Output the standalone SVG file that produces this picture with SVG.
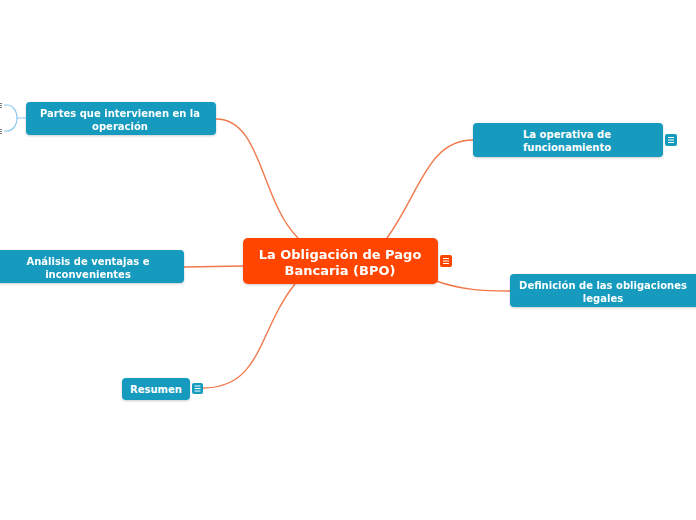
<svg xmlns="http://www.w3.org/2000/svg" width="696" height="520" viewBox="0 0 696 520">
<style>
.conn{fill:none;stroke:#F0784A;stroke-width:1.4}
.sub{fill:#139ABD}
.main{fill:#FF4500}
.t{font-family:"DejaVu Sans",Verdana,sans-serif;font-weight:bold;fill:#fff;text-anchor:middle}
.ts{font-size:10px}
.tm{font-size:13px}
.ic{stroke:#fff;stroke-width:1}
</style>
<defs>
<filter id="sh" x="-10%" y="-20%" width="120%" height="150%">
<feDropShadow dx="0" dy="1" stdDeviation="1" flood-color="#000" flood-opacity="0.2"/>
</filter>
</defs>
<rect width="696" height="520" fill="#fff"/>
<g id="connectors">
<path class="conn" d="M216,119 C262,119 260,200 298,238"/>
<path class="conn" d="M387,238 C420,192 428,140 473,140"/>
<path class="conn" d="M436,281 C462,290 482,291 510,291"/>
<path class="conn" d="M184,267 L243,266"/>
<path class="conn" d="M295,284 C258,330 262,388 203,388"/>
<path fill="none" stroke="#8EC8EE" stroke-width="1.2" d="M4,105 L7,105 C12,105 17,110 17,118 C17,126 12,131 7,131 L4,131 M17,118 L27,118"/>
</g>
<g id="cut-icons" stroke="#555" stroke-width="0.8">
<path d="M0,103.5 H2 M0,105.5 H2 M0,107.5 H2 M0,129.5 H2 M0,131.5 H2 M0,133.5 H2"/>
</g>
<g id="central" filter="url(#sh)">
<rect class="main" x="243" y="238" width="195" height="46" rx="5"/>
<text class="t tm" x="340" y="259">La Obligación de Pago</text>
<text class="t tm" x="340" y="275">Bancaria (BPO)</text>
</g>
<g id="central-icon">
<rect class="main" x="440" y="255" width="12" height="12" rx="2"/>
<path class="ic" d="M443,258.5 H449 M443,261 H449 M443,263.5 H449"/>
</g>
<g id="partes" filter="url(#sh)">
<rect class="sub" x="26" y="102" width="190" height="33" rx="4"/>
<text class="t ts" x="120" y="117">Partes que intervienen en la</text>
<text class="t ts" x="120" y="130">operación</text>
</g>
<g id="operativa">
<rect class="sub" x="473" y="123" width="190" height="34" rx="4" filter="url(#sh)"/>
<text class="t ts" x="567" y="138">La operativa de</text>
<text class="t ts" x="567" y="151">funcionamiento</text>
<rect class="sub" x="665" y="134" width="12" height="12" rx="2"/>
<path class="ic" d="M668,137.5 H674 M668,140 H674 M668,142.5 H674"/>
</g>
<g id="definicion" filter="url(#sh)">
<rect class="sub" x="510" y="274" width="192" height="33" rx="4"/>
<text class="t ts" x="603" y="289">Definición de las obligaciones</text>
<text class="t ts" x="603" y="302">legales</text>
</g>
<g id="analisis" filter="url(#sh)">
<rect class="sub" x="-10" y="250" width="194" height="33" rx="4"/>
<text class="t ts" x="88" y="265">Análisis de ventajas e</text>
<text class="t ts" x="88" y="278">inconvenientes</text>
</g>
<g id="resumen">
<rect class="sub" x="122" y="378" width="68" height="22" rx="4" filter="url(#sh)"/>
<text class="t ts" x="156" y="393">Resumen</text>
<rect class="sub" x="192" y="383" width="11" height="11" rx="2"/>
<path class="ic" d="M194.5,386 H200.5 M194.5,388.5 H200.5 M194.5,391 H200.5"/>
</g>
</svg>
